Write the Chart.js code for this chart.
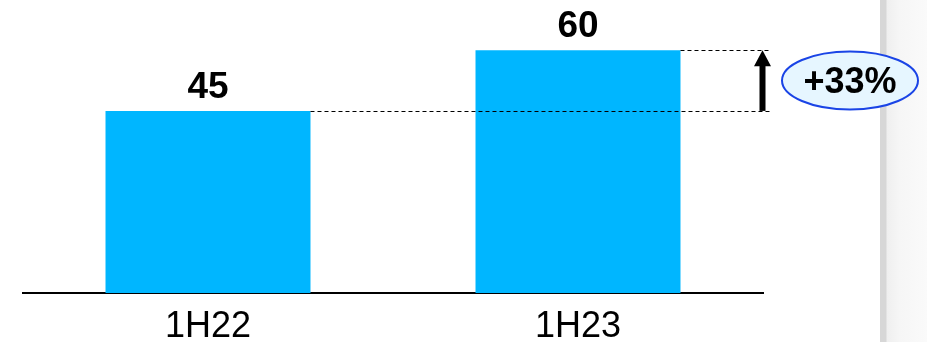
<!DOCTYPE html>
<html>
<head>
<meta charset="utf-8">
<title>1H22 vs 1H23</title>
<script src="https://cdn.jsdelivr.net/npm/chart.js@4/dist/chart.umd.min.js"></script>
<style>
  html, body { margin: 0; padding: 0; background: #fff; }
  #wrap { position: relative; width: 927px; height: 342px; overflow: hidden; }
  #edge {
    position: absolute; left: 880px; top: 0; width: 47px; height: 342px;
    background: linear-gradient(to right, #d7d7d7 0px, #d7d7d7 6px, #efefef 7px, #f6f6f6 20px, #fafafa 47px);
  }
  canvas { position: absolute; left: 0; top: 0; }
</style>
</head>
<body>
<div id="wrap">
  <div id="edge"></div>
  <canvas id="growthChart" width="927" height="342"></canvas>
</div>
<script>
// Data
const periods = ["1H22", "1H23"];
const values = [45, 60];

const FONT = "'Liberation Sans', Arial, sans-serif";

// Value labels, dashed guides, growth arrow and the % bubble
const annotatePlugin = {
  id: "annotate",
  afterDatasetsDraw(chart) {
    const ctx = chart.ctx;
    const bars = chart.getDatasetMeta(0).data;
    const area = chart.chartArea;
    const yScale = chart.scales.y;

    ctx.save();

    // numbers above bars
    ctx.fillStyle = "#000";
    ctx.font = "bold 37px " + FONT;
    ctx.textAlign = "center";
    ctx.textBaseline = "alphabetic";
    bars.forEach((bar, i) => {
      ctx.fillText(String(values[i]), bar.x, bar.y - 13);
    });

    // dashed guides from each bar's top right corner
    const guideEnd = area.right + 7;
    ctx.strokeStyle = "#000";
    ctx.lineWidth = 1;
    ctx.setLineDash([4, 3]);
    bars.forEach(bar => {
      const y = Math.round(bar.y) + 0.5;
      ctx.beginPath();
      ctx.moveTo(bar.x + bar.width / 2, y);
      ctx.lineTo(guideEnd, y);
      ctx.stroke();
    });
    ctx.setLineDash([]);

    // arrow between the two levels
    const yLow = yScale.getPixelForValue(values[0]);
    const yHigh = yScale.getPixelForValue(values[1]);
    const ax = area.right - 0.5;
    ctx.fillStyle = "#000";
    ctx.fillRect(ax - 3, yHigh + 15, 6, yLow - yHigh - 15);
    ctx.beginPath();
    ctx.moveTo(ax, yHigh);
    ctx.lineTo(ax - 8.5, yHigh + 16);
    ctx.lineTo(ax + 8.5, yHigh + 16);
    ctx.closePath();
    ctx.fill();

    // growth bubble
    const cx = area.right + 87;
    const cy = (yLow + yHigh) / 2;
    ctx.beginPath();
    ctx.ellipse(cx, cy, 68, 29, 0, 0, Math.PI * 2);
    ctx.fillStyle = "#e6f6ff";
    ctx.fill();
    ctx.lineWidth = 2;
    ctx.strokeStyle = "#1a44e6";
    ctx.stroke();

    const pct = Math.round((values[1] - values[0]) / values[0] * 100);
    ctx.fillStyle = "#000";
    ctx.font = "bold 36px " + FONT;
    ctx.textAlign = "center";
    ctx.textBaseline = "alphabetic";
    ctx.fillText("+" + pct + "%", cx, cy + 12);

    ctx.restore();
  }
};

const ctx = document.getElementById("growthChart").getContext("2d");
new Chart(ctx, {
  type: "bar",
  data: {
    labels: periods,
    datasets: [{
      data: values,
      backgroundColor: "#00b6ff",
      borderWidth: 0,
      barPercentage: 0.554,
      categoryPercentage: 1
    }]
  },
  options: {
    responsive: false,
    animation: false,
    layout: { padding: { left: 23, right: 164, top: 0, bottom: -19 } },
    plugins: {
      legend: { display: false },
      tooltip: { enabled: false }
    },
    scales: {
      x: {
        grid: { display: false, drawTicks: false },
        border: { display: true, color: "#000", width: 2 },
        ticks: {
          color: "#000",
          padding: 25,
          font: { family: FONT, size: 36, lineHeight: 0.5 }
        }
      },
      y: {
        display: false,
        min: 0,
        max: 72.4
      }
    }
  },
  plugins: [annotatePlugin]
});
</script>
</body>
</html>
